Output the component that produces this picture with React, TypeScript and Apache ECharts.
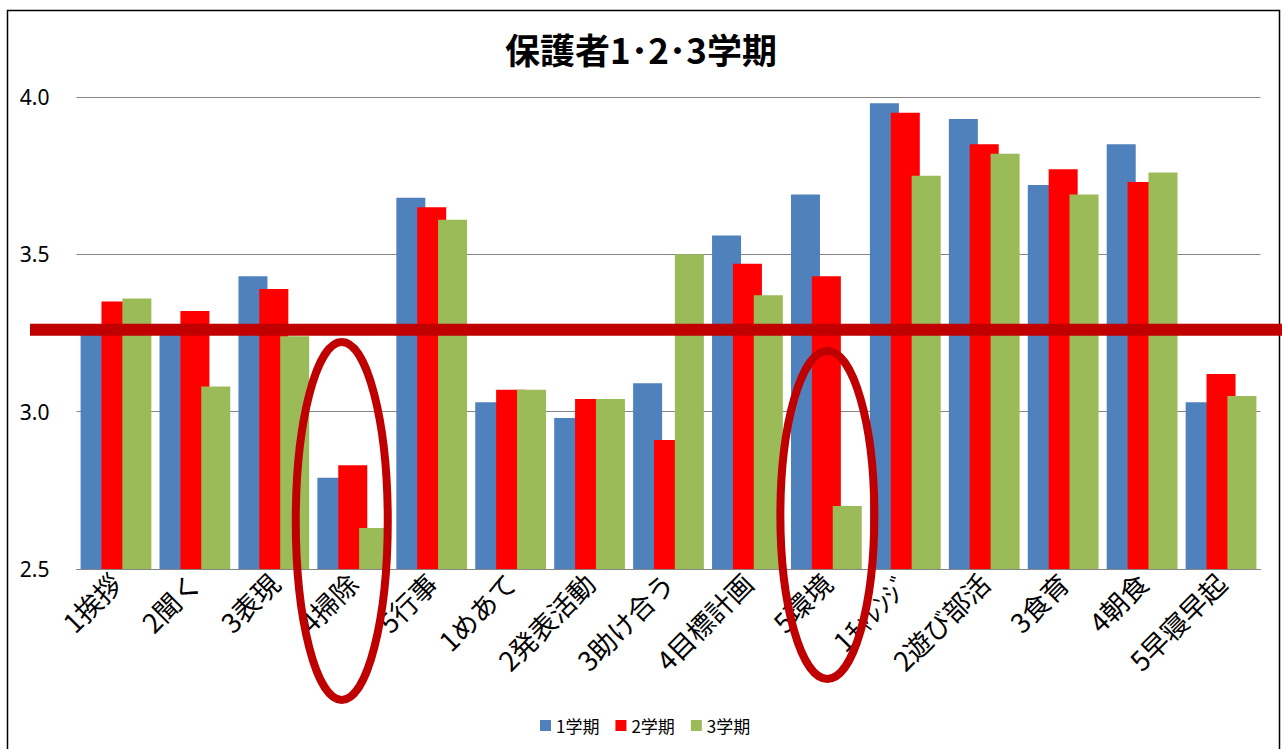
import React, { useEffect, useRef } from "react";
import * as echarts from "echarts";

const categories = [
  "1挨拶", "2聞く", "3表現", "4掃除", "5行事",
  "1めあて", "2発表活動", "3助け合う", "4目標計画", "5環境",
  "1ﾁｬﾚﾝｼﾞ", "2遊び部活", "3食育", "4朝食", "5早寝早起",
];
const term1 = [3.26, 3.26, 3.43, 2.79, 3.68, 3.03, 2.98, 3.09, 3.56, 3.69, 3.98, 3.93, 3.72, 3.85, 3.03];
const term2 = [3.35, 3.32, 3.39, 2.83, 3.65, 3.07, 3.04, 2.91, 3.47, 3.43, 3.95, 3.85, 3.77, 3.73, 3.12];
const term3 = [3.36, 3.08, 3.24, 2.63, 3.61, 3.07, 3.04, 3.50, 3.37, 2.70, 3.75, 3.82, 3.69, 3.76, 3.05];
const seriesNames = ["1学期", "2学期", "3学期"];
const referenceLevel = 3.26;
const circledCategories = ["4掃除", "5環境"];
const yTicks = { min: 2.5, max: 4.0, interval: 0.5 };

const W = 1282;
const H = 749;

export default function App() {
  const ref = useRef<HTMLDivElement>(null);
  useEffect(() => {
    if (!ref.current) return;
    const chart = echarts.init(ref.current, null, { renderer: "svg" });
    const colors = ["#4F81BD", "#FF0000", "#9BBB59"];
    const datas = [term1, term2, term3];
    chart.setOption({
      animation: false,
      backgroundColor: "#ffffff",
      title: {
        text: "保護者1･2･3学期",
        left: "center",
        top: 26,
        textStyle: {
          fontFamily: "Noto Sans CJK JP",
          fontSize: 35,
          fontWeight: "bold",
          color: "#000",
        },
      },
      legend: {
        bottom: 10,
        left: 535,
        itemWidth: 11,
        itemHeight: 11,
        itemGap: 16,
        icon: "rect",
        textStyle: { fontFamily: "Noto Sans CJK JP", fontSize: 17, color: "#000" },
        data: seriesNames,
      },
      grid: { left: 76.5, right: 21.5, top: 97, bottom: 180, containLabel: false },
      xAxis: {
        type: "category",
        data: categories,
        axisLine: { lineStyle: { color: "#868686", width: 1 } },
        axisTick: { show: false },
        axisLabel: {
          rotate: 45,
          interval: 0,
          margin: 9,
          fontFamily: "Noto Sans CJK JP",
          fontSize: 27,
          color: "#000",
        },
      },
      yAxis: {
        type: "value",
        min: yTicks.min,
        max: yTicks.max,
        interval: yTicks.interval,
        axisLine: { show: false },
        axisTick: { show: false },
        splitLine: { lineStyle: { color: "#868686", width: 1 } },
        axisLabel: {
          margin: 27,
          fontFamily: "Noto Sans",
          fontSize: 21,
          color: "#000",
          formatter: (v: number) => v.toFixed(1),
        },
      },
      series: seriesNames.map((name, i) => ({
        name,
        type: "bar",
        data: datas[i],
        barWidth: 29,
        barGap: "-28%",
        itemStyle: { color: colors[i] },
      })),
    });

    const yLine = chart.convertToPixel({ yAxisIndex: 0 }, referenceLevel) as number;
    const cx1 = chart.convertToPixel({ xAxisIndex: 0 }, circledCategories[0]) as number;
    const cx2 = chart.convertToPixel({ xAxisIndex: 0 }, circledCategories[1]) as number;

    chart.setOption({
      graphic: [
        {
          type: "rect",
          z: 50,
          shape: { x: 7.5, y: 10.5, width: 1272, height: 800 },
          style: { fill: "none", stroke: "#000", lineWidth: 1.5 },
          silent: true,
        },
        {
          type: "line",
          z: 100,
          shape: { x1: 30, y1: yLine, x2: W, y2: yLine },
          style: { stroke: "#C00000", lineWidth: 12 },
          silent: true,
        },
        {
          type: "ellipse",
          z: 100,
          shape: { cx: cx1 - 11, cy: 521, rx: 46, ry: 179 },
          style: { fill: "none", stroke: "#C00000", lineWidth: 8 },
          silent: true,
        },
        {
          type: "ellipse",
          z: 100,
          shape: { cx: cx2 + 1, cy: 515, rx: 47, ry: 164 },
          style: { fill: "none", stroke: "#C00000", lineWidth: 8 },
          silent: true,
        },
      ],
    });

    return () => chart.dispose();
  }, []);
  return (
    <div
      ref={ref}
      style={{ position: "absolute", left: 0, top: 0, width: W, height: H }}
    />
  );
}
